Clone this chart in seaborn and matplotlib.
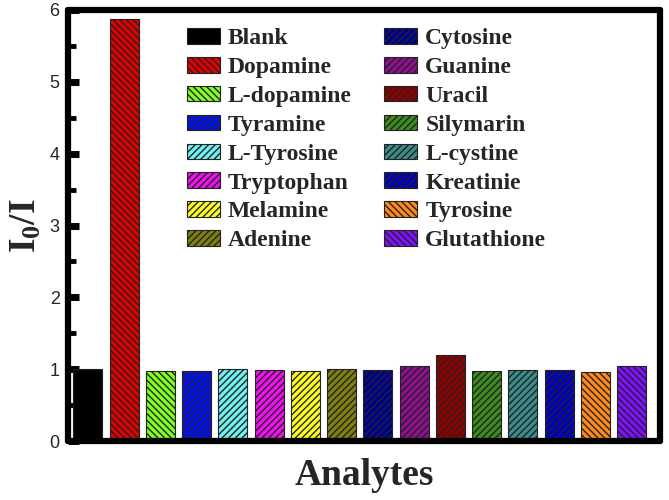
import matplotlib
matplotlib.use("Agg")
import matplotlib.pyplot as plt
from matplotlib.patches import Patch
from matplotlib.ticker import MultipleLocator
import seaborn as sns
import pandas as pd

categories = ["Blank", "Dopamine", "L-dopamine", "Tyramine", "L-Tyrosine", "Tryptophan",
              "Melamine", "Adenine", "Cytosine", "Guanine", "Uracil", "Silymarin",
              "L-cystine", "Kreatinie", "Tyrosine", "Glutathione"]
values = [1.00, 5.88, 0.97, 0.98, 1.00, 0.99, 0.98, 1.00, 0.99, 1.045, 1.20, 0.97,
          0.99, 0.99, 0.965, 1.045]
colors = ["#000000", "#e00000", "#80ff20", "#0010ff", "#70f0f0", "#f010f0",
          "#ffff20", "#808010", "#000090", "#901090", "#900000", "#3c8c1e",
          "#3c8c8c", "#0000c0", "#ff8a1a", "#8010ff"]
hatches = ["", "\\\\\\\\\\", "\\\\\\\\\\", "/////", "/////", "/////",
           "/////", "/////", "/////", "/////", "/////", "/////",
           "/////", "/////", "\\\\\\\\\\", "\\\\\\\\\\"]

df = pd.DataFrame({"Analyte": categories, "I0/I": values})

sns.set_style("white")
plt.rcParams["hatch.linewidth"] = 1.0
plt.rcParams["hatch.color"] = "#111111"
plt.rcParams["mathtext.fontset"] = "custom"
plt.rcParams["mathtext.rm"] = "Liberation Serif:bold"
plt.rcParams["mathtext.bf"] = "Liberation Serif:bold"
plt.rcParams["mathtext.it"] = "Liberation Serif:bold"

fig = plt.figure(figsize=(6.69, 5.0), dpi=100)
ax = fig.add_axes([0.1016, 0.118, 0.8849, 0.862])

sns.barplot(data=df, x="Analyte", y="I0/I", hue="Analyte", palette=colors,
            order=categories, hue_order=categories, dodge=False, width=0.8,
            saturation=1, legend=False, ax=ax, edgecolor="#222222", linewidth=0.8)

for bar, h in zip(ax.patches, hatches):
    bar.set_hatch(h)

ax.set_xlim(-0.55, 15.78)
ax.set_ylim(0, 6)
ax.set_xticks([])
ax.yaxis.set_major_locator(MultipleLocator(1))
ax.yaxis.set_minor_locator(MultipleLocator(0.5))
ax.tick_params(axis="y", which="major", direction="in", length=8, width=5,
               color="black", labelsize=13, pad=6, left=True)
ax.tick_params(axis="y", which="minor", direction="in", length=6, width=3.5,
               color="black", left=True)
for lab in ax.get_yticklabels():
    lab.set_fontfamily("Liberation Sans")

for sp in ax.spines.values():
    sp.set_visible(True)
    sp.set_linewidth(4.5)
    sp.set_color("black")
    sp.set_capstyle("round")

ax.set_xlabel("Analytes", fontsize=27, fontweight="bold", family="Liberation Serif", labelpad=12)
ax.set_ylabel("I$_\\mathrm{0}$/I", fontsize=27, fontweight="bold", family="Liberation Serif", labelpad=4)

handles = [Patch(facecolor=c, edgecolor="#222222", hatch=h, linewidth=0.8)
           for c, h in zip(colors, hatches)]
leg = fig.legend(handles, categories, loc="upper left", bbox_to_anchor=(0.279, 0.944),
                 ncol=2, frameon=False, prop={"family": "Liberation Serif", "weight": "bold", "size": 17},
                 handlelength=1.4, handleheight=0.64, handletextpad=0.33,
                 labelspacing=0.33, columnspacing=1.4, borderaxespad=0, borderpad=0)

fig.savefig("out.png", dpi=100)
